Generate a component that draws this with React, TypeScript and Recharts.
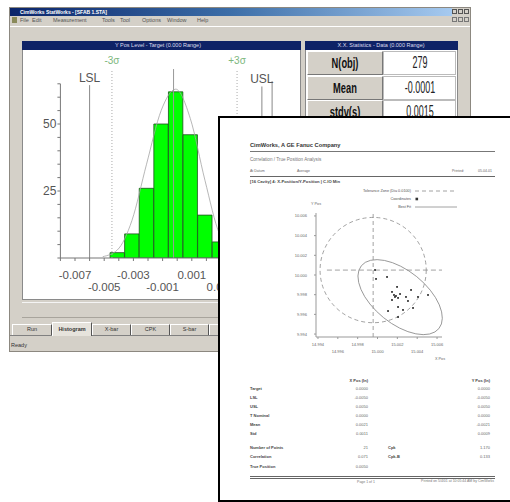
import React from 'react';
import {
  ComposedChart,
  Bar,
  Line,
  XAxis,
  YAxis,
  ReferenceLine,
  ScatterChart,
  Scatter,
  ReferenceArea,
} from 'recharts';

// ---- histogram (back window) ----
const binCenters = [-0.0051, -0.0041, -0.0031, -0.0021, -0.0011, -0.0001, 0.0009, 0.0019, 0.0029, 0.0039, 0.0049];
const binCounts = [null, 2, 9, 26, 50, 62, 46, 16, 6, 3, 1];
const fitCurve = [0.5, 3, 14, 35, 55, 63, 52, 29, 9, 3, 1];

const histXTicks = [-0.008, -0.007, -0.006, -0.005, -0.004, -0.003, -0.002, -0.001, 0, 0.001, 0.002, 0.003, 0.004, 0.005, 0.006, 0.007, 0.008];
const histXLabels = ['', '-0.007', '', '-0.005', '', '-0.003', '', '-0.001', '', '0.001', '', '0.003', '', '0.005', '', '0.007', ''];
const histYTicks = [0, 5, 10, 15, 20, 25, 30, 35, 40, 45, 50, 55, 60, 65];
const histYLabels = ['', '', '', '', '', '25', '', '', '', '', '50', '', '', ''];

const specLines = [
  { x: -0.006, top: 64.5, label: 'LSL', kind: 'limit' },
  { x: -0.00447, top: 70.5, label: '-3σ', kind: 'sigma' },
  { x: -0.00025, top: 70.5, label: '', kind: 'mean' },
  { x: 0.0041, top: 70.5, label: '+3σ', kind: 'sigma' },
  { x: 0.0058, top: 64, label: 'USL', kind: 'limit' },
  { x: 0.0065, top: 66, label: '', kind: 'limit' },
];

const statNames = ['N(obj)', 'Mean', 'stdv(s)'];
const statValues = ['279', '-0.0001', '0.0015'];

// ---- scatter (report page) ----
const pointsX = [14.99975, 14.99985, 15.00096, 15.00197, 15.00146, 15.00338, 15.00176, 15.00207, 15.00287, 15.00307, 15.00408, 15.00509, 15.00106, 15.00207, 15.00257, 15.00358, 15.00207, 15.00146, 15.00166, 15.00186, 15.00227];
const pointsY = [10.00051, 9.9996, 9.9998, 9.99879, 9.99828, 9.99848, 9.99777, 9.99767, 9.99777, 9.99736, 9.99777, 9.99797, 9.99634, 9.99675, 9.99645, 9.99665, 9.99573, 9.99746, 9.99797, 9.99787, 9.99807];
const scatterXTicks = [14.994, 14.996, 14.998, 15.0, 15.002, 15.004, 15.006];
const scatterYTicks = [9.994, 9.996, 9.998, 10.0, 10.002, 10.004, 10.006];

const nominal = { x: 14.99956, y: 10.0005 };
const tolRadius = 0.00535;
const bestFit = { x: 15.00228, y: 9.99775, major: 0.00503, minor: 0.00268, angle: 39 };

const tableRows = ['Target', 'LSL', 'USL', 'T Nominal', 'Mean', 'Std'];
const tableColX = ['0.0000', '-0.0050', '0.0050', '0.0000', '0.0021', '0.0011'];
const tableColY = ['0.0000', '-0.0050', '0.0050', '0.0000', '-0.0021', '0.0009'];

const histRows = binCenters.map((x, i) => ({ x, count: binCounts[i], curve: fitCurve[i] }));
const scatterRows = pointsX.map((x, i) => ({ x, y: pointsY[i] }));

const FONT = "'Liberation Sans', Arial, Helvetica, sans-serif";
const NAVY = '#0e2266';
const GREY = '#d4d0c8';

type TxtProps = {
  x: number;
  y: number;
  size: number;
  children: React.ReactNode;
  bold?: boolean;
  color?: string;
  align?: 'left' | 'right' | 'center';
  sx?: number;
};

function Txt({ x, y, size, children, bold, color = '#555', align = 'left', sx = 1 }: TxtProps) {
  const shift = align === 'right' ? '-100%' : align === 'center' ? '-50%' : '0';
  return (
    <div
      style={{
        position: 'absolute',
        left: x,
        top: y - size * 0.6,
        fontSize: size,
        lineHeight: `${size * 1.2}px`,
        fontWeight: bold ? 700 : 400,
        color,
        fontFamily: FONT,
        whiteSpace: 'nowrap',
        transform: `translateX(${shift}) scaleX(${sx})`,
        transformOrigin: align,
      }}
    >
      {children}
    </div>
  );
}

function Box(props: { x: number; y: number; w: number; h: number; style?: React.CSSProperties }) {
  return (
    <div
      style={{
        position: 'absolute',
        left: props.x,
        top: props.y,
        width: props.w,
        height: props.h,
        boxSizing: 'border-box',
        ...props.style,
      }}
    />
  );
}

function HistXTick(props: any) {
  const { x, y, index } = props;
  const label = histXLabels[index];
  if (!label) return null;
  const row = Math.floor(index / 2) % 2;
  return (
    <text x={x} y={y + (row ? 24 : 12)} textAnchor="middle" dominantBaseline="central" fontSize={11.5} fill="#555" fontFamily={FONT}>
      {label}
    </text>
  );
}

function HistYTick(props: any) {
  const { x, y, index } = props;
  const label = histYLabels[index];
  if (!label) return null;
  return (
    <text x={x} y={y} textAnchor="end" dominantBaseline="central" fontSize={12} fill="#555" fontFamily={FONT}>
      {label}
    </text>
  );
}

function Histogram() {
  return (
    <ComposedChart width={276} height={248} data={histRows} margin={{ top: 33.8, right: 6, bottom: 0, left: 6.4 }}>
      <XAxis
        dataKey="x"
        type="number"
        domain={[-0.008, 0.008]}
        ticks={histXTicks}
        interval={0}
        height={40}
        tickSize={3}
        stroke="#777"
        tick={HistXTick}
        allowDataOverflow
      />
      <YAxis
        type="number"
        domain={[0, 65]}
        ticks={histYTicks}
        interval={0}
        width={30}
        tickSize={3}
        tickMargin={1}
        stroke="#777"
        tick={HistYTick}
        allowDataOverflow
      />
      {specLines.map((s, i) => (
        <ReferenceLine
          key={i}
          segment={[
            { x: s.x, y: 0 },
            { x: s.x, y: s.top },
          ]}
          ifOverflow="visible"
          stroke={s.kind === 'sigma' ? '#aaa' : s.kind === 'mean' ? '#999' : '#888'}
          strokeWidth={1}
          strokeDasharray={s.kind === 'sigma' ? '1 2' : undefined}
          label={
            s.label
              ? {
                  value: s.label,
                  position: 'top',
                  offset: s.kind === 'sigma' ? 5 : 3,
                  fontSize: s.kind === 'sigma' ? 10 : 12,
                  fill: s.kind === 'sigma' ? '#7db77d' : '#555',
                  fontFamily: FONT,
                }
              : undefined
          }
        />
      ))}
      <Bar dataKey="count" fill="#00ff00" stroke="#1f4f1f" strokeWidth={0.8} barSize={14.4} isAnimationActive={false} />
      <Line dataKey="curve" type="monotone" stroke="#a4a4a4" strokeWidth={0.8} dot={false} isAnimationActive={false} />
    </ComposedChart>
  );
}

function ScatterXTick(props: any) {
  const { x, y, index } = props;
  return (
    <text x={x} y={y + (index % 2 ? 10 : 3.5)} textAnchor="middle" dominantBaseline="central" fontSize={4} fill="#666" fontFamily={FONT}>
      {scatterXTicks[index].toFixed(3)}
    </text>
  );
}

function ScatterYTick(props: any) {
  const { x, y, index } = props;
  return (
    <text x={x - 5} y={y} textAnchor="end" dominantBaseline="central" fontSize={4} fill="#666" fontFamily={FONT}>
      {scatterYTicks[index].toFixed(3)}
    </text>
  );
}

function oval(angle: number, dashed: boolean) {
  return (p: any) => {
    const cx = p.x + p.width / 2;
    const cy = p.y + p.height / 2;
    return (
      <ellipse
        cx={cx}
        cy={cy}
        rx={Math.abs(p.width) / 2}
        ry={Math.abs(p.height) / 2}
        fill="none"
        stroke="#8a8a8a"
        strokeWidth={0.8}
        strokeDasharray={dashed ? '4 3' : undefined}
        transform={angle ? `rotate(${angle} ${cx} ${cy})` : undefined}
      />
    );
  };
}

function PointMark(p: any) {
  return <rect x={p.cx - 0.9} y={p.cy - 0.9} width={1.8} height={1.8} fill="#333" />;
}

function PositionScatter() {
  return (
    <ScatterChart width={260} height={185} margin={{ top: 28, right: 68, bottom: 13, left: 36 }}>
      <XAxis
        dataKey="x"
        type="number"
        domain={[14.9938, 15.0065]}
        ticks={scatterXTicks}
        interval={0}
        height={20}
        tickSize={2}
        stroke="#999"
        tick={ScatterXTick}
        allowDataOverflow
      />
      <YAxis
        dataKey="y"
        type="number"
        domain={[9.9937, 10.0063]}
        ticks={scatterYTicks}
        interval={0}
        width={30}
        tickSize={2}
        stroke="#999"
        tick={ScatterYTick}
        allowDataOverflow
      />
      <ReferenceLine x={nominal.x} stroke="#8a8a8a" strokeWidth={0.8} strokeDasharray="4 3" />
      <ReferenceLine
        segment={[
          { x: 14.9949, y: nominal.y },
          { x: 15.0065, y: nominal.y },
        ]}
        stroke="#8a8a8a"
        strokeWidth={0.8}
        strokeDasharray="5 3"
      />
      <ReferenceArea
        x1={nominal.x - tolRadius}
        x2={nominal.x + tolRadius}
        y1={nominal.y - tolRadius}
        y2={nominal.y + tolRadius}
        ifOverflow="visible"
        shape={oval(0, true)}
      />
      <ReferenceArea
        x1={bestFit.x - bestFit.major}
        x2={bestFit.x + bestFit.major}
        y1={bestFit.y - bestFit.minor}
        y2={bestFit.y + bestFit.minor}
        ifOverflow="visible"
        shape={oval(bestFit.angle, false)}
      />
      <Scatter data={scatterRows} shape={PointMark} isAnimationActive={false} />
    </ScatterChart>
  );
}

function BackWindow() {
  const menu: [string, number][] = [
    ['File', 20], ['Edit', 32], ['Measurement', 53], ['Tools', 102], ['Tool', 120],
    ['Options', 142], ['Window', 167], ['Help', 197],
  ];
  const tabs: [string, number, number][] = [
    ['Run', 12, 40], ['Histogram', 52, 40], ['X-bar', 92, 39], ['CPK', 131, 39], ['S-bar', 170, 39], ['Pareto', 209, 39],
  ];
  return (
    <>
      <Box x={9} y={7} w={462} h={345} style={{ background: GREY, border: '1px solid #8c8880' }} />
      <Box x={10} y={8} w={442} h={8} style={{ background: 'linear-gradient(to right, #0a246a, #3c6ea8 50%, #a6caf0)' }} />
      <Txt x={20} y={12} size={5} bold color="#fff">CimWorks StatWorks - [SFAB 1.STA]</Txt>
      {[452, 458, 464].map((bx) => (
        <Box key={'t' + bx} x={bx} y={9} w={5} h={5} style={{ background: GREY, border: '0.5px solid #555' }} />
      ))}
      {[452, 458, 464].map((bx) => (
        <Box key={'m' + bx} x={bx} y={17} w={5} h={5} style={{ background: GREY, border: '0.5px solid #777' }} />
      ))}
      <Box x={12} y={17} w={5} h={6} style={{ background: '#8a8a5a' }} />
      {menu.map(([m, mx]) => (
        <Txt key={m} x={mx} y={20.5} size={5.5} color="#555">{m}</Txt>
      ))}
      <Box x={10} y={26} w={460} h={1} style={{ background: '#fff' }} />

      {/* histogram panel */}
      <Box x={22} y={41} w={279} h={259} style={{ background: '#fff', border: '1px solid #8a8a8a' }} />
      <Box x={22} y={41} w={279} h={9} style={{ background: NAVY }} />
      <Txt x={158} y={45.5} size={5.5} color="#dde" align="center">Y Pos Level - Target (0.000 Range)</Txt>
      <div style={{ position: 'absolute', left: 24, top: 50 }}>
        <Histogram />
      </div>
      <Box x={22} y={302} w={279} h={16} style={{ borderTop: '1px solid #f4f4f4', borderBottom: '1px solid #a8a49c' }} />

      {/* tabs */}
      <Box x={10} y={335} w={290} h={1} style={{ background: '#808080' }} />
      {tabs.map(([t, tx, tw], i) => (
        <React.Fragment key={t}>
          <Box
            x={tx}
            y={i === 1 ? 322 : 324}
            w={tw}
            h={i === 1 ? 14 : 11}
            style={{ background: i === 1 ? '#e6e3dc' : GREY, borderLeft: '1px solid #fff', borderTop: '1px solid #fff', borderRight: '1px solid #555' }}
          />
          <Txt x={tx + tw / 2} y={329.5} size={5.5} bold={i === 1} color="#333" align="center">{t}</Txt>
        </React.Fragment>
      ))}
      <Txt x={11} y={345} size={5.5} color="#333">Ready</Txt>

      {/* statistics panel */}
      <Box x={305} y={41} w={153} h={90} style={{ background: '#fff', border: '1px solid #8a8a8a' }} />
      <Box x={305} y={41} w={153} h={9} style={{ background: NAVY }} />
      <Txt x={381} y={45.5} size={5.5} color="#dde" align="center">X.X. Statistics - Data (0.000 Range)</Txt>
      {statNames.map((n, i) => (
        <React.Fragment key={n}>
          <Box
            x={307}
            y={51 + i * 24.5}
            w={76}
            h={24}
            style={{ background: GREY, borderTop: '1px solid #fff', borderLeft: '1px solid #fff', borderRight: '1px solid #777', borderBottom: '1px solid #777' }}
          />
          <Box x={383} y={51 + i * 24.5} w={73} h={24} style={{ background: '#fff', border: '1px solid #bbb' }} />
          <Txt x={345} y={63 + i * 24.5} size={15} bold color="#111" align="center" sx={0.62}>{n}</Txt>
          <Txt x={420} y={63 + i * 24.5} size={16} color="#222" align="center" sx={0.56}>{statValues[i]}</Txt>
        </React.Fragment>
      ))}
    </>
  );
}

function LegendRow({ y, label, mark }: { y: number; label: string; mark: 'dash' | 'square' | 'line' }) {
  return (
    <>
      <Txt x={411} y={y} size={3.8} color="#555" align="right">{label}</Txt>
      <svg style={{ position: 'absolute', left: 413, top: y - 3, overflow: 'visible' }} width={46} height={6}>
        {mark === 'square' ? (
          <rect x={2.5} y={1.7} width={2.6} height={2.6} fill="#333" />
        ) : (
          <line x1={2} y1={3} x2={44} y2={3} stroke="#8a8a8a" strokeWidth={0.8} strokeDasharray={mark === 'dash' ? '4 3' : undefined} />
        )}
      </svg>
    </>
  );
}

function ReportPage() {
  return (
    <>
      <Box x={218} y={116} w={300} h={386} style={{ background: '#fff', border: '2px solid #000' }} />
      <Txt x={250} y={145} size={5.7} bold color="#333">CimWorks, A GE Fanuc Company</Txt>
      <Box x={250} y={151} w={245} h={1.2} style={{ background: '#777' }} />
      <Txt x={250} y={160} size={4.6} color="#777">Correlation / True Position Analysis</Txt>
      <Txt x={250} y={171} size={3.5} color="#666">At Datum</Txt>
      <Txt x={297} y={171} size={3.5} color="#666">Average</Txt>
      <Txt x={452} y={171} size={3.5} color="#666">Printed:</Txt>
      <Txt x={478} y={171} size={3.5} color="#666">05-04-01</Txt>
      <Box x={250} y={175.5} w={245} h={1.5} style={{ background: '#666' }} />
      <Txt x={250} y={182} size={4.2} bold color="#444">[16 Cavity] 4: X-Position/Y-Position | C.IO  Min</Txt>

      <LegendRow y={191} label="Tolerance Zone (Dia 0.0100)" mark="dash" />
      <LegendRow y={199} label="Coordinates" mark="square" />
      <LegendRow y={207} label="Best Fit" mark="line" />
      <Txt x={316} y={204} size={3.8} color="#666" align="center">Y Pos</Txt>
      <div style={{ position: 'absolute', left: 250, top: 185 }}>
        <PositionScatter />
      </div>
      <Txt x={440} y={359} size={3.8} color="#666" align="center">X Pos</Txt>

      <Txt x={368} y={381} size={4} bold color="#444" align="right">X Pos (In)</Txt>
      <Txt x={490} y={381} size={4} bold color="#444" align="right">Y Pos (In)</Txt>
      {tableRows.map((r, i) => (
        <React.Fragment key={r}>
          <Txt x={250} y={389 + i * 9} size={4} bold color="#444">{r}</Txt>
          <Txt x={368} y={389 + i * 9} size={4} color="#666" align="right">{tableColX[i]}</Txt>
          <Txt x={490} y={389 + i * 9} size={4} color="#666" align="right">{tableColY[i]}</Txt>
        </React.Fragment>
      ))}
      <Txt x={250} y={448} size={4} bold color="#444">Number of Points</Txt>
      <Txt x={368} y={448} size={4} color="#666" align="right">21</Txt>
      <Txt x={388} y={448} size={4} bold color="#444">Cpk</Txt>
      <Txt x={490} y={448} size={4} color="#666" align="right">1.170</Txt>
      <Txt x={250} y={457} size={4} bold color="#444">Correlation</Txt>
      <Txt x={368} y={457} size={4} color="#666" align="right">0.071</Txt>
      <Txt x={388} y={457} size={4} bold color="#444">Cpk-B</Txt>
      <Txt x={490} y={457} size={4} color="#666" align="right">0.133</Txt>
      <Txt x={250} y={467} size={4} bold color="#444">True Position</Txt>
      <Txt x={368} y={467} size={4} color="#666" align="right">0.0050</Txt>
      <Box x={250} y={475.5} w={245} h={1} style={{ background: '#666' }} />
      <Box x={250} y={477.5} w={245} h={1} style={{ background: '#666' }} />
      <Txt x={366} y={482} size={3.5} color="#777" align="center">Page 1 of 1</Txt>
      <Txt x={494} y={481} size={3.5} color="#777" align="right">Printed on 5/4/01 at 10:05:44 AM by CimWorks</Txt>
    </>
  );
}

export default function App() {
  return (
    <div
      style={{
        position: 'absolute',
        left: 0,
        top: 0,
        width: 510,
        height: 502,
        overflow: 'hidden',
        background: '#fff',
        fontFamily: FONT,
      }}
    >
      <BackWindow />
      <ReportPage />
    </div>
  );
}
